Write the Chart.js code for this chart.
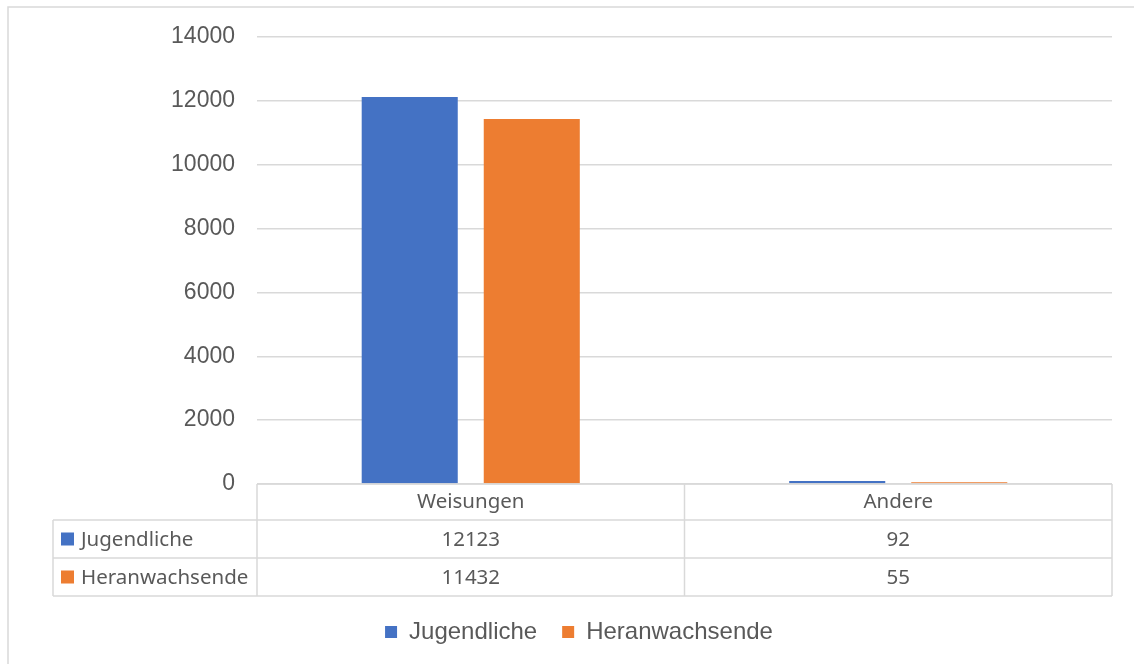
<!DOCTYPE html>
<html lang="de">
<head>
<meta charset="utf-8">
<title>Weisungen</title>
<script src="https://cdn.jsdelivr.net/npm/chart.js@4.4.1/dist/chart.umd.min.js"></script>
<style>
  html, body { margin: 0; padding: 0; background: #fff; }
  #wrap { width: 1134px; height: 664px; }
</style>
</head>
<body>
<div id="wrap"><canvas id="chart" width="1134" height="664"></canvas></div>
<script>
const categories = ["Weisungen", "Andere"];
const jugendliche = [12123, 92];
const heranwachsende = [11432, 55];
const seriesNames = ["Jugendliche", "Heranwachsende"];
const seriesColors = ["#4472C4", "#ED7D31"];

const textColor = "#595959";
const lineColor = "#d9d9d9";
const tableFont = "20.5px 'Noto Sans', sans-serif";

// outer frame around the whole chart object
const framePlugin = {
  id: "frame",
  beforeDraw(chart) {
    const ctx = chart.ctx;
    ctx.save();
    ctx.strokeStyle = lineColor;
    ctx.lineWidth = 1.5;
    ctx.strokeRect(8, 7, 1140, 700);
    ctx.restore();
  },
};

// Excel-style data table under the plot area
const dataTablePlugin = {
  id: "dataTable",
  afterDraw(chart) {
    const ctx = chart.ctx;
    const area = chart.chartArea;
    const x = chart.scales.x;
    const rowsData = [jugendliche, heranwachsende];

    const top = area.bottom;
    const rowTops = [top, top + 36, top + 74, top + 112];
    const tableLeft = 53;

    // category boundaries from the scale
    const bounds = [area.left];
    for (let i = 0; i < categories.length - 1; i++) {
      bounds.push((x.getPixelForValue(i) + x.getPixelForValue(i + 1)) / 2);
    }
    bounds.push(area.right);

    ctx.save();
    ctx.strokeStyle = lineColor;
    ctx.lineWidth = 1.5;
    ctx.beginPath();
    ctx.moveTo(area.left, rowTops[0]);
    ctx.lineTo(area.right, rowTops[0]);
    for (let r = 1; r < rowTops.length; r++) {
      ctx.moveTo(tableLeft, rowTops[r]);
      ctx.lineTo(area.right, rowTops[r]);
    }
    bounds.forEach((bx) => {
      ctx.moveTo(bx, rowTops[0]);
      ctx.lineTo(bx, rowTops[3]);
    });
    ctx.moveTo(tableLeft, rowTops[1]);
    ctx.lineTo(tableLeft, rowTops[3]);
    ctx.stroke();

    ctx.font = tableFont;
    ctx.fillStyle = textColor;
    ctx.textBaseline = "middle";
    ctx.textAlign = "center";
    categories.forEach((cat, i) => {
      const cx = x.getPixelForValue(i);
      ctx.fillText(cat, cx, (rowTops[0] + rowTops[1]) / 2);
      rowsData.forEach((vals, r) => {
        ctx.fillText(String(vals[i]), cx, (rowTops[r + 1] + rowTops[r + 2]) / 2 + 1);
      });
    });

    ctx.textAlign = "left";
    seriesNames.forEach((name, r) => {
      const cy = (rowTops[r + 1] + rowTops[r + 2]) / 2;
      ctx.fillStyle = seriesColors[r];
      ctx.fillRect(61, cy - 6.5, 13, 13);
      ctx.fillStyle = textColor;
      ctx.fillText(name, 81, cy + 1);
    });
    ctx.restore();
  },
};

new Chart(document.getElementById("chart"), {
  type: "bar",
  data: {
    labels: categories,
    datasets: [
      {
        label: seriesNames[0],
        data: jugendliche,
        backgroundColor: seriesColors[0],
        categoryPercentage: 0.571,
        barPercentage: 0.787,
      },
      {
        label: seriesNames[1],
        data: heranwachsende,
        backgroundColor: seriesColors[1],
        categoryPercentage: 0.571,
        barPercentage: 0.787,
      },
    ],
  },
  options: {
    responsive: false,
    animation: false,
    layout: {
      padding: { top: 37, right: 22, bottom: 10, left: 46 },
    },
    plugins: {
      tooltip: { enabled: false },
      legend: {
        position: "bottom",
        labels: {
          boxWidth: 12,
          boxHeight: 12,
          padding: 25,
          color: textColor,
          font: { family: "'Liberation Sans', Arial, sans-serif", size: 24 },
        },
      },
    },
    scales: {
      x: {
        grid: { display: false },
        border: { display: false },
        ticks: { display: false },
        afterFit(scale) {
          scale.height = 111;
        },
      },
      y: {
        min: 0,
        max: 14000,
        ticks: {
          stepSize: 2000,
          color: textColor,
          padding: 22,
          font: { family: "'Liberation Sans', Arial, sans-serif", size: 23 },
          callback: (value) => String(value),
        },
        grid: { color: lineColor, lineWidth: 1.5, drawTicks: false },
        border: { display: false },
        afterFit(scale) {
          scale.width = 211;
        },
      },
    },
  },
  plugins: [framePlugin, dataTablePlugin],
});
</script>
</body>
</html>
